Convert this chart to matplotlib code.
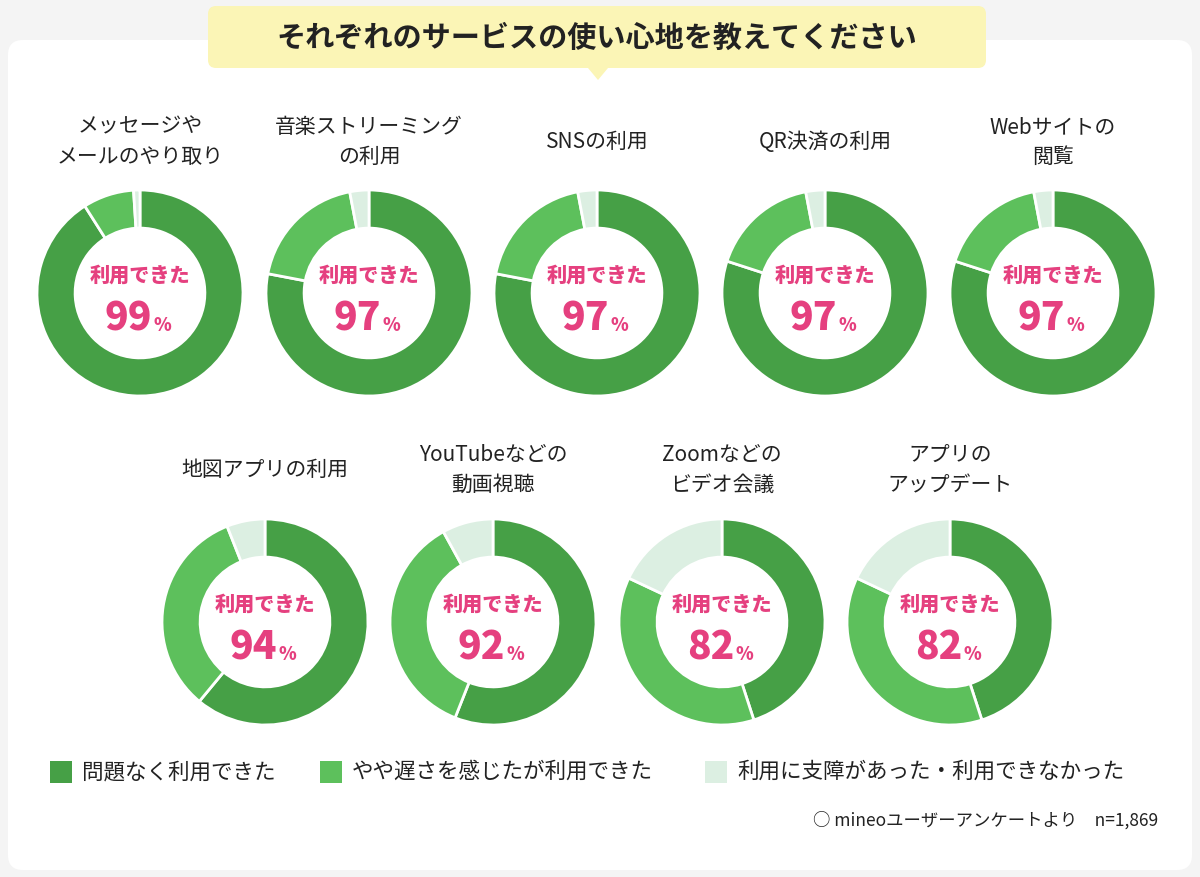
import matplotlib.pyplot as plt
from matplotlib.patches import FancyBboxPatch, Polygon

plt.rcParams['font.family'] = ['Noto Sans CJK JP', 'DejaVu Sans']

titles = ["メッセージや\nメールのやり取り", "音楽ストリーミング\nの利用", "SNSの利用", "QR決済の利用", "Webサイトの\n閲覧",
          "地図アプリの利用", "YouTubeなどの\n動画視聴", "Zoomなどの\nビデオ会議", "アプリの\nアップデート"]
ok = [91, 78, 78, 80, 80, 61, 56, 45, 45]
slow = [8, 19, 19, 17, 17, 33, 36, 37, 37]
ng = [1, 3, 3, 3, 3, 6, 8, 18, 18]
usable = [99, 97, 97, 97, 97, 94, 92, 82, 82]
legend_labels = ["問題なく利用できた", "やや遅さを感じたが利用できた", "利用に支障があった・利用できなかった"]
colors = ["#46a046", "#5dc05c", "#dcefe2"]
pink = "#e5407f"

fig = plt.figure(figsize=(12, 8.77), dpi=100)
fig.patch.set_facecolor("#f4f4f4")
bg = fig.add_axes([0, 0, 1, 1])
bg.set_xlim(0, 1200); bg.set_ylim(877, 0); bg.axis("off")
bg.add_patch(FancyBboxPatch((8, 40), 1184, 830, boxstyle="round,pad=0,rounding_size=15",
                            fc="white", ec="none"))
bg.add_patch(FancyBboxPatch((208, 6), 778, 62, boxstyle="round,pad=0,rounding_size=8",
                            fc="#fbf5b6", ec="none"))
bg.add_patch(Polygon([[588, 68], [608, 68], [598, 80]], fc="#fbf5b6", ec="none"))
bg.text(597, 38, "それぞれのサービスの使い心地を教えてください", ha="center", va="center",
        fontsize=21, fontweight="bold", color="#222222")

centers = [(140, 293), (369, 293), (597, 293), (825, 293), (1053, 293),
           (265, 622), (493, 622), (722, 622), (950, 622)]
title_y = [142, 142, 142, 142, 142, 470, 470, 470, 470]
r = 103
for i, (cx, cy) in enumerate(centers):
    ax = fig.add_axes([(cx - r) / 1200, 1 - (cy + r) / 877, 2 * r / 1200, 2 * r / 877])
    ax.pie([ok[i], slow[i], ng[i]], colors=colors, startangle=90, counterclock=False,
           wedgeprops=dict(width=0.37, edgecolor="white", linewidth=2))
    ax.set_xlim(-1, 1); ax.set_ylim(-1, 1)
    ax.set_aspect("equal")
    ax.text(0, 0.17, "利用できた", ha="center", va="center", fontsize=14.5, fontweight="heavy", color=pink)
    ax.text(0.12, -0.25, f"{usable[i]}", ha="right", va="center", fontsize=28, fontweight="heavy", color=pink)
    ax.text(0.13, -0.32, "%", ha="left", va="center", fontsize=13, fontweight="heavy", color=pink)
    bg.text(cx, title_y[i], titles[i], ha="center", va="center", fontsize=15,
            color="#222222", linespacing=1.5)

lx = [50, 320, 705]
for x, lab, c in zip(lx, legend_labels, colors):
    bg.add_patch(plt.Rectangle((x, 761), 22, 22, fc=c, ec="none"))
    bg.text(x + 32, 772, lab, va="center", fontsize=15.5, color="#222222")
bg.text(1158, 820, "○ mineoユーザーアンケートより　n=1,869", ha="right", va="center",
        fontsize=12.5, color="#222222")

fig.savefig("out.png", dpi=100, facecolor=fig.get_facecolor())
